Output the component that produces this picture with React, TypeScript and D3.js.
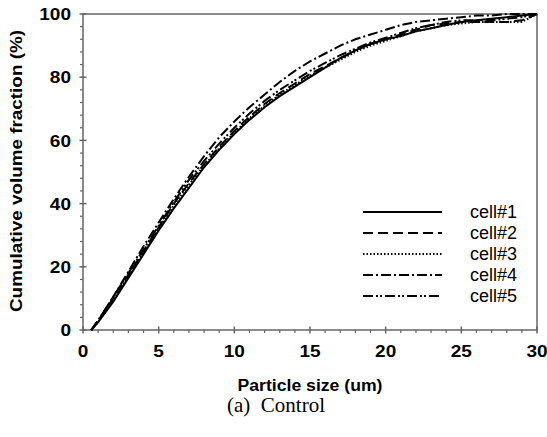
import React from "react";
import * as d3 from "d3";

// particle size grid (um)
const sizes = [0.55, 1, 2, 3, 4, 5, 6, 7, 8, 9, 10, 11, 12, 13, 14, 15, 16, 17, 18, 19, 20, 21, 22, 23, 24, 25, 26, 27, 28, 29, 30];

// cumulative volume fraction (%) per cell
const cell1 = [0, 2.5, 9, 16.5, 24, 31.5, 38.5, 45, 51.5, 57, 62, 66.5, 70.5, 74, 77, 80, 83, 86, 88.5, 90.5, 92, 93, 94.5, 95.5, 96.5, 97.5, 98, 98.5, 99, 99.5, 100];
const cell2 = [0, 3, 10, 17.5, 25, 32.5, 40, 46.5, 52.5, 58, 63, 67.5, 71.5, 75, 78, 81, 83.5, 86, 88.5, 90.5, 92, 93.5, 95, 96.5, 97, 97.5, 97.5, 97.5, 97.5, 98, 100];
const cell3 = [0, 2.5, 9.5, 17, 24.5, 32, 39.5, 46, 52, 57.5, 62.5, 67, 71, 74.5, 77.5, 80.5, 83, 85.5, 88, 90, 91.5, 93, 94.5, 95.5, 96.5, 97, 97.5, 97.5, 97.5, 97.5, 100];
const cell4 = [0, 3, 10.5, 18.5, 26.5, 34, 41.5, 48.5, 55, 61, 66, 70.5, 74.5, 78.5, 82, 85, 87.5, 90, 92, 93.5, 95, 96.5, 97.5, 98, 98.5, 99, 99.5, 99.5, 100, 100, 100];
const cell5 = [0, 3, 10.5, 18, 25.5, 33, 40.5, 47.5, 53.5, 59, 64, 68.5, 72.5, 76, 79, 82, 84.5, 87, 89, 91, 92.5, 94, 95.5, 96.5, 97.5, 98, 98, 98, 98.5, 99, 100];

const cellNames = ["cell#1", "cell#2", "cell#3", "cell#4", "cell#5"];
const cellValues = [cell1, cell2, cell3, cell4, cell5];
const dashes = ["none", "10,5", "1.5,2", "10,3,2,3", "10,3,2,2,2,3"];

const xTicks = [0, 5, 10, 15, 20, 25, 30];
const yTicks = [0, 20, 40, 60, 80, 100];

export default function App() {
  const width = 547;
  const height = 437;
  const margin = { top: 14, right: 10, bottom: 107, left: 83 };

  const x = d3.scaleLinear().domain([0, 30]).range([margin.left, width - margin.right]);
  const y = d3.scaleLinear().domain([0, 100]).range([height - margin.bottom, margin.top]);

  const lineGen = d3.line<number>()
    .x((d, i) => x(sizes[i]))
    .y(d => y(d));

  const axisColor = "#666";
  const x0 = x(0), x1 = x(30), y0 = y(0), y1 = y(100);
  const xMinor = d3.range(0, 31, 1).filter(v => v % 5 !== 0);
  const yMinor = d3.range(0, 101, 4).filter(v => v % 20 !== 0);

  return (
    <svg width={width} height={height} style={{ position: "absolute", left: 0, top: 0 }}
      fontFamily="Liberation Sans, Arial, sans-serif">
      <rect x={0} y={0} width={width} height={height} fill="white" />
      {/* frame */}
      <rect x={x0} y={y1} width={x1 - x0} height={y0 - y1} fill="none" stroke={axisColor} strokeWidth={1.5} />

      {/* y ticks */}
      {yTicks.map(t => (
        <g key={"y" + t}>
          <line x1={x0 - 3.5} x2={x0 + 3.5} y1={y(t)} y2={y(t)} stroke={axisColor} strokeWidth={1.5} />
          <text x={x0 - 12} y={y(t)} dy="0.36em" textAnchor="end" fontSize={17} fontWeight="bold"
            transform={`translate(${x0 - 12}, 0) scale(1.12, 1) translate(${-(x0 - 12)}, 0)`}>{t}</text>
        </g>
      ))}
      {yMinor.map(t => (
        <line key={"ym" + t} x1={x0 - 3} x2={x0} y1={y(t)} y2={y(t)} stroke={axisColor} strokeWidth={1.2} />
      ))}

      {/* x ticks */}
      {xTicks.map(t => (
        <g key={"x" + t}>
          <line x1={x(t)} x2={x(t)} y1={y0 - 3.5} y2={y0 + 3.5} stroke={axisColor} strokeWidth={1.5} />
          <text x={x(t)} y={y0 + 27} textAnchor="middle" fontSize={17} fontWeight="bold"
            transform={`translate(${x(t)}, 0) scale(1.12, 1) translate(${-x(t)}, 0)`}>{t}</text>
        </g>
      ))}
      {xMinor.map(t => (
        <line key={"xm" + t} x1={x(t)} x2={x(t)} y1={y0} y2={y0 + 3} stroke={axisColor} strokeWidth={1.2} />
      ))}

      {/* curves */}
      {cellValues.map((vals, i) => (
        <path key={i} d={lineGen(vals) || ""} fill="none" stroke="black" strokeWidth={2}
          strokeDasharray={dashes[i]} />
      ))}

      {/* legend */}
      <g transform="translate(363, 212)">
        {cellNames.map((name, i) => (
          <g key={name} transform={`translate(0, ${i * 21})`}>
            <line x1={0} x2={79} y1={0} y2={0} stroke="black" strokeWidth={2.2} strokeDasharray={dashes[i]} />
            <text x={107} y={0} dy="0.35em" fontSize={18}>{name}</text>
          </g>
        ))}
      </g>

      {/* axis titles */}
      <text x={(x0 + x1) / 2} y={391} textAnchor="middle" fontSize={16} fontWeight="bold"
        textLength={145} lengthAdjust="spacingAndGlyphs">Particle size (um)</text>
      <text transform={`translate(22, ${(y0 + y1) / 2 - 1}) rotate(-90)`} textAnchor="middle" fontSize={16}
        fontWeight="bold" textLength={282} lengthAdjust="spacingAndGlyphs">Cumulative volume fraction (%)</text>

      {/* caption */}
      <text x={276} y={412} textAnchor="middle" fontSize={21}
        fontFamily="Liberation Serif, Times New Roman, serif">{"(a)\u00a0\u00a0Control"}</text>
    </svg>
  );
}
